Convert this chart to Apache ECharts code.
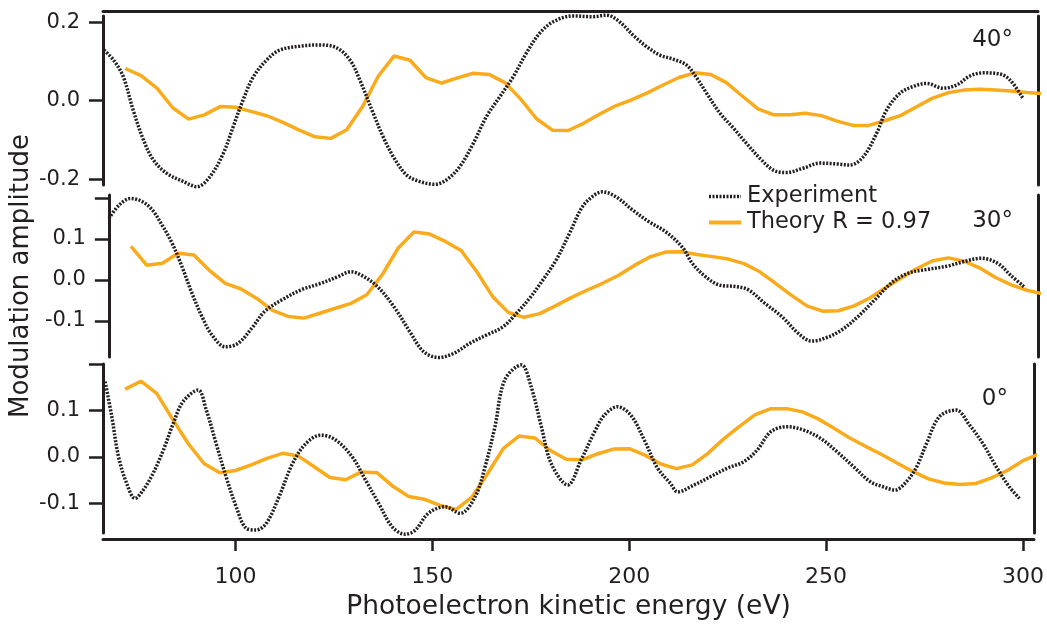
<!DOCTYPE html>
<html>
<head>
<meta charset="utf-8">
<script src="https://cdn.jsdelivr.net/npm/echarts@6/dist/echarts.min.js"></script>
<style>
  html, body { margin: 0; padding: 0; background: #fff; }
  #chart { width: 1047px; height: 626px; }
</style>
</head>
<body>
<div id="chart"></div>
<script>
// theory is computed on a 4 eV grid, same for all three angles
const theoryEnergy = [72, 76, 80, 84, 88, 92, 96, 100, 104, 108, 112, 116, 120, 124, 128, 132, 136, 140, 144, 148,
  152, 156, 160, 164, 168, 172, 176, 180, 184, 188, 192, 196, 200, 204, 208, 212, 216, 220, 224, 228,
  232, 236, 240, 244, 248, 252, 256, 260, 264, 268, 272, 276, 280, 284, 288, 292, 296, 300, 304];

const theory40 = [0.082, 0.064, 0.032, -0.018, -0.047, -0.036, -0.015, -0.017, -0.028, -0.039, -0.056, -0.075, -0.092, -0.096, -0.074, -0.015, 0.063, 0.114, 0.103, 0.059,
  0.045, 0.058, 0.070, 0.067, 0.046, 0.004, -0.046, -0.075, -0.076, -0.057, -0.034, -0.013, 0.002, 0.020, 0.040, 0.059, 0.071, 0.067, 0.046, 0.012,
  -0.021, -0.036, -0.036, -0.032, -0.038, -0.052, -0.063, -0.063, -0.051, -0.038, -0.016, 0.006, 0.020, 0.027, 0.029, 0.027, 0.025, 0.021, 0.018];

const theory30 = [0.082, 0.036, 0.041, 0.065, 0.061, 0.023, -0.008, -0.022, -0.045, -0.074, -0.089, -0.093, -0.081, -0.069, -0.057, -0.036, 0.014, 0.078, 0.117, 0.112,
  0.094, 0.072, 0.020, -0.040, -0.079, -0.091, -0.082, -0.063, -0.043, -0.025, -0.008, 0.011, 0.035, 0.056, 0.068, 0.069, 0.062, 0.057, 0.051, 0.040,
  0.020, -0.008, -0.037, -0.063, -0.076, -0.075, -0.063, -0.044, -0.019, 0.005, 0.028, 0.047, 0.054, 0.046, 0.029, 0.006, -0.012, -0.025, -0.034];

const theory0 = [0.146, 0.163, 0.137, 0.082, 0.029, -0.014, -0.034, -0.029, -0.017, -0.003, 0.008, 0.002, -0.021, -0.044, -0.049, -0.032, -0.034, -0.063, -0.085, -0.091,
  -0.104, -0.113, -0.087, -0.036, 0.018, 0.045, 0.041, 0.014, -0.005, -0.006, 0.007, 0.017, 0.018, 0.004, -0.015, -0.025, -0.017, 0.008, 0.039, 0.066,
  0.091, 0.104, 0.104, 0.097, 0.082, 0.062, 0.041, 0.023, 0.006, -0.013, -0.031, -0.047, -0.056, -0.059, -0.057, -0.045, -0.029, -0.008, 0.006];

// experiment
const exp40Energy = [66.6, 69.0, 71.5, 74.0, 76.6, 79.1, 82.5, 86.7, 90.1, 93.4, 96.8, 99.3, 101.8, 104.4, 107.8, 111.1, 116.2, 121.2, 125.4, 128.8,
  131.3, 134.7, 137.2, 139.8, 143.1, 146.5, 150.3, 153.2, 156.6, 160.0, 163.3, 166.7, 170.1, 173.4, 176.8, 180.2, 185.2, 190.3, 193.7, 197.0,
  200.4, 203.8, 207.2, 210.5, 213.9, 216.5, 219.0, 222.4, 225.8, 229.1, 232.5, 235.9, 239.2, 243.4, 247.7, 251.9, 255.2, 258.6, 262.0, 264.5,
  267.9, 271.2, 274.6, 278.8, 282.2, 285.6, 288.9, 293.2, 295.7, 299.0];
const exp40 = [0.129, 0.104, 0.061, -0.024, -0.100, -0.151, -0.185, -0.206, -0.219, -0.194, -0.134, -0.066, 0.002, 0.061, 0.104, 0.129, 0.139, 0.142, 0.135, 0.104,
  0.053, -0.032, -0.092, -0.143, -0.189, -0.206, -0.213, -0.202, -0.168, -0.109, -0.041, 0.010, 0.061, 0.121, 0.172, 0.201, 0.216, 0.214, 0.218, 0.201,
  0.167, 0.138, 0.116, 0.106, 0.091, 0.058, 0.019, -0.032, -0.070, -0.109, -0.147, -0.177, -0.183, -0.172, -0.159, -0.161, -0.164, -0.143, -0.083, -0.024,
  0.019, 0.036, 0.044, 0.032, 0.040, 0.063, 0.071, 0.068, 0.053, 0.006];

const exp30Energy = [66.4, 69.0, 71.9, 74.9, 77.4, 79.9, 82.5, 85.0, 87.5, 90.1, 92.6, 96.0, 99.3, 102.7, 106.0, 110.3, 115.3, 120.4, 124.6, 128.0,
  130.9, 134.7, 138.9, 143.2, 146.5, 150.3, 154.1, 158.3, 162.5, 166.7, 170.1, 173.4, 176.8, 180.2, 183.6, 186.9, 189.9, 192.0, 195.4, 199.6,
  203.8, 208.0, 212.3, 214.8, 218.2, 221.6, 225.8, 229.1, 233.3, 237.6, 241.8, 245.2, 248.6, 252.8, 257.0, 261.2, 265.4, 269.6, 274.7, 279.8,
  284.0, 288.3, 292.5, 295.8, 299.2];
const exp30 = [0.150, 0.183, 0.199, 0.191, 0.171, 0.134, 0.089, 0.032, -0.032, -0.090, -0.134, -0.163, -0.154, -0.118, -0.077, -0.049, -0.024, -0.008, 0.008, 0.020,
  0.010, -0.016, -0.065, -0.130, -0.175, -0.189, -0.179, -0.154, -0.134, -0.114, -0.081, -0.045, 0.000, 0.049, 0.114, 0.179, 0.207, 0.215, 0.203, 0.171,
  0.142, 0.118, 0.080, 0.041, 0.008, -0.012, -0.016, -0.024, -0.057, -0.089, -0.130, -0.149, -0.142, -0.122, -0.089, -0.049, -0.008, 0.016, 0.026, 0.034,
  0.045, 0.053, 0.041, 0.012, -0.016];

const exp0Energy = [66.9, 68.6, 70.3, 72.4, 74.5, 76.6, 79.1, 81.7, 84.2, 86.7, 90.5, 92.6, 95.1, 97.6, 100.2, 102.7, 105.2, 107.8, 111.1, 114.5,
  117.9, 121.7, 125.4, 129.6, 133.0, 136.4, 139.8, 143.1, 145.7, 149.0, 153.3, 157.1, 160.9, 163.4, 165.9, 168.4, 172.6, 175.1, 177.7, 180.2,
  184.4, 187.8, 191.2, 193.7, 197.0, 200.4, 203.8, 207.2, 210.5, 212.3, 216.5, 220.7, 224.9, 229.1, 232.5, 235.9, 240.1, 244.3, 248.6, 252.8,
  257.0, 261.2, 264.5, 267.5, 270.4, 273.0, 275.5, 278.8, 283.0, 286.4, 289.8, 293.2, 296.5, 299.1];
const exp0 = [0.162, 0.087, 0.001, -0.057, -0.089, -0.071, -0.035, 0.015, 0.072, 0.119, 0.144, 0.101, 0.029, -0.042, -0.107, -0.153, -0.157, -0.143, -0.085, -0.014,
  0.029, 0.047, 0.037, 0.001, -0.049, -0.100, -0.150, -0.166, -0.157, -0.121, -0.107, -0.121, -0.085, -0.021, 0.065, 0.166, 0.198, 0.151, 0.065, -0.014,
  -0.060, -0.006, 0.054, 0.090, 0.108, 0.090, 0.037, -0.024, -0.057, -0.075, -0.060, -0.042, -0.024, -0.010, 0.015, 0.054, 0.065, 0.058, 0.040, 0.011,
  -0.021, -0.053, -0.064, -0.071, -0.053, -0.021, 0.029, 0.087, 0.101, 0.069, 0.029, -0.021, -0.064, -0.089];

const energyTicks = [100, 150, 200, 250, 300];
const panelLabels = ['40°', '30°', '0°'];

const ink = '#231f20';
const orange = '#f9ab1c';
const font = 'DejaVu Sans';

const zip = (xs, ys) => xs.map((x, i) => [x, ys[i]]);

const xMin = 66.37, xMax = 302.8;

// pixel layout of the three stacked panels
const panels = [
  { top: 16, height: 169, min: -0.2148, max: 0.2158, ticks: [-0.2, 0, 0.2], labels: [-0.2, 0, 0.2] },
  { top: 195, height: 162, min: -0.1878, max: 0.2073, ticks: [-0.1, 0, 0.1, 0.2], labels: [-0.1, 0, 0.1] },
  { top: 364, height: 169, min: -0.1634, max: 0.2, ticks: [-0.1, 0, 0.1, 0.2], labels: [-0.1, 0, 0.1] }
];

const grid = panels.map(p => ({ left: 103, right: 9, top: p.top, height: p.height }));

const xAxis = [
  {
    gridIndex: 0, type: 'value', min: xMin, max: xMax, position: 'top', offset: 5,
    axisLine: { show: true, onZero: false, lineStyle: { color: ink, width: 3 } },
    axisTick: { show: false }, axisLabel: { show: false }, splitLine: { show: false }
  },
  { gridIndex: 1, type: 'value', min: xMin, max: xMax, show: false },
  {
    gridIndex: 2, type: 'value', min: xMin, max: xMax, position: 'bottom', offset: 6,
    name: 'Photoelectron kinetic energy (eV)',
    nameLocation: 'middle', nameGap: 55,
    nameTextStyle: { fontFamily: font, fontSize: 26.5, color: ink },
    axisLine: { show: true, onZero: false, lineStyle: { color: ink, width: 3 } },
    axisTick: { show: true, length: 12, customValues: energyTicks, lineStyle: { color: ink, width: 2.5 } },
    axisLabel: { customValues: energyTicks, margin: 27, fontFamily: font, fontSize: 22, color: ink },
    splitLine: { show: false }
  }
];

const yAxis = [];
panels.forEach((p, i) => {
  const left = {
    gridIndex: i, type: 'value', min: p.min, max: p.max, position: 'left',
    axisLine: { show: true, onZero: false, lineStyle: { color: ink, width: 3 } },
    axisTick: { show: true, length: 14, customValues: p.ticks, lineStyle: { color: ink, width: 2.5 } },
    axisLabel: {
      customValues: p.labels, margin: 23, fontFamily: font, fontSize: 21, color: ink,
      formatter: v => v.toFixed(1)
    },
    splitLine: { show: false }
  };
  if (i === 1) {
    left.name = 'Modulation amplitude';
    left.nameLocation = 'middle';
    left.nameGap = 69;
    left.nameTextStyle = { fontFamily: font, fontSize: 26, color: ink };
  }
  yAxis.push(left);
  yAxis.push({
    gridIndex: i, type: 'value', min: p.min, max: p.max, position: 'right',
    axisLine: { show: true, onZero: false, lineStyle: { color: ink, width: 3 } },
    axisTick: { show: false }, axisLabel: { show: false }, splitLine: { show: false }
  });
});

const expSets = [zip(exp40Energy, exp40), zip(exp30Energy, exp30), zip(exp0Energy, exp0)];
const theorySets = [zip(theoryEnergy, theory40), zip(theoryEnergy, theory30), zip(theoryEnergy, theory0)];

const theoryLine = { color: orange, width: 3.5 };
const expLine = { color: ink, width: 3.5, type: [2, 1.5] };

const series = [];
panels.forEach((p, i) => {
  series.push({
    name: 'Theory R = 0.97', type: 'line', xAxisIndex: i, yAxisIndex: i * 2,
    data: theorySets[i], symbol: 'none', showSymbol: false, z: 2,
    lineStyle: theoryLine, itemStyle: { color: orange }
  });
  series.push({
    name: 'Experiment', type: 'line', xAxisIndex: i, yAxisIndex: i * 2,
    data: expSets[i], symbol: 'none', showSymbol: false, smooth: 0.35, clip: false, z: 3,
    lineStyle: expLine, itemStyle: { color: ink }
  });
});

const title = [
  { text: panelLabels[0], right: 34, top: 29 },
  { text: panelLabels[1], right: 34, top: 210 },
  { text: panelLabels[2], right: 39, top: 388 }
].map(t => Object.assign(t, {
  padding: 0,
  textStyle: { fontFamily: font, fontSize: 23, fontWeight: 'normal', color: ink }
}));

const chart = echarts.init(document.getElementById('chart'), null, { renderer: 'canvas' });
chart.setOption({
  animation: false,
  backgroundColor: '#fff',
  textStyle: { fontFamily: font },
  title: title,
  legend: {
    orient: 'vertical', left: 702, top: 180,
    itemWidth: 32, itemHeight: 14, itemGap: 3,
    itemStyle: { opacity: 0 },
    textStyle: { fontFamily: font, fontSize: 22.5, color: ink, padding: [0, 0, 0, 1] },
    data: [
      { name: 'Experiment', lineStyle: { width: 3.5, type: [2, 1.5], color: ink } },
      { name: 'Theory R = 0.97', lineStyle: { width: 4, color: orange } }
    ]
  },
  grid: grid,
  xAxis: xAxis,
  yAxis: yAxis,
  series: series
});
</script>
</body>
</html>
